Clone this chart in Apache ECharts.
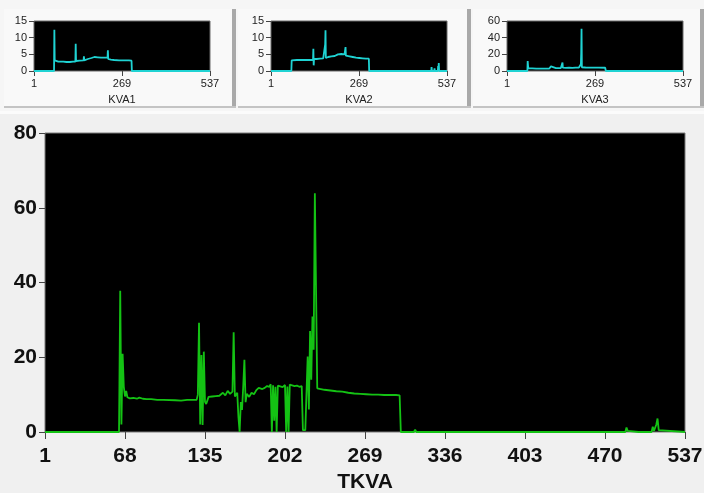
<!DOCTYPE html>
<html>
<head>
<meta charset="utf-8">
<script src="https://cdn.jsdelivr.net/npm/echarts@6/dist/echarts.min.js"></script>
<style>
html,body{margin:0;padding:0;background:#f0f0f0;}
#c{width:704px;height:493px;}
</style>
</head>
<body>
<div id="c"></div>
<script>
// ---- data (sample index, value) ----
const mainTicks = [1, 68, 135, 202, 269, 336, 403, 470, 537];
const thumbTicks = [1, 269, 537];

const tkva = [[1,0],[63,0],[64,37.8],[65,2],[66,20.9],[67,12.1],[68,9.5],[69,11],[70,9.3],[72,9.0],[75,9.1],[78,8.9],[80,9.2],[83,8.9],[86,8.8],[90,8.8],[95,8.6],[100,8.6],[110,8.5],[115,8.4],[120,8.6],[128,8.6],
[129,10],[130,29.2],[131,2],[132,20.6],[133,1.9],[134,21.5],[135,8.1],[136,7.5],[138,9.4],[141,9.5],[144,9.6],[147,9.7],[150,10.5],[152,9.8],[154,11],[156,10.2],[158,10.8],[159,26.7],[160,9.5],[162,10.5],[163,4],[164,0],[165,8],[166,5.9],[167,12],[168,19.3],[169,8],[170,10.2],[172,9.4],[174,10.5],[176,10.1],[178,11.2],[180,11.8],[181,12.1],[183,11.5],[185,11.8],[187,12.3],[189,12.1],[190,12.8],[191,0],[192,12.5],[193,3],[194,12.1],[195,0],[196,12.4],[198,12.2],[200,12.0],[202,12.6],[203,0],[204,12.2],[205,0],[206,12.7],[208,12.5],[210,12.3],[212,12.4],[214,12.1],[216,12.3],[217,0.5],[219,0.5],[220,0.6],[221,20.2],[222,6],[223,27],[224,14],[225,30.9],[226,22],[227,63.9],[228,38],[229,11.7],
[235,11.3],[240,11.1],[245,10.9],[250,10.8],[255,10.5],[260,10.3],[265,10.2],[270,10.1],[275,10.0],[280,10.0],[285,9.9],[290,9.9],[295,9.9],[298,9.8],[299,0],[310,0],[311,0.6],[312,0],[487,0],[488,1.2],[489,0.3],[490,0],[498,0],[499,0.5],[500,0],[509,0],[510,1.4],[511,0.3],[512,0.8],[513,2],[514,3.6],[515,0.5],[516,0],[537,0]];

const kva1 = [[1,0],[62,0],[63,12.4],[64,3.2],[66,2.9],[75,2.8],[90,2.8],[100,2.7],[110,2.7],[120,2.8],[127,2.8],[128,8.2],[129,3.0],[135,3.0],[140,3.1],[145,3.2],[152,3.2],[153,4.4],[154,3.2],[160,3.4],[165,3.6],[170,3.5],[176,3.9],[180,3.8],[185,4.2],[190,4.0],[195,4.1],[200,3.9],[205,4.0],[210,3.8],[215,4.0],[220,3.9],[225,4.1],[226,6.2],[227,3.6],[235,3.4],[245,3.3],[260,3.2],[275,3.2],[290,3.2],[298,3.1],[299,0],[490,0],[491,0.6],[492,0],[505,0],[506,0.5],[507,0],[537,0]];

const kva2 = [[1,0],[63,0],[64,3.2],[66,3.5],[68,3.3],[80,3.3],[100,3.3],[120,3.3],[129,3.3],[130,6.7],[131,1.7],[132,3.6],[140,3.6],[150,3.7],[160,3.8],[165,4.0],[166,8],[167,12.2],[168,3.9],[175,4.2],[185,4.4],[190,4.6],[195,4.5],[200,4.8],[205,5.0],[210,4.7],[215,5.1],[220,4.8],[225,5.0],[228,7.2],[229,4.6],[240,4.4],[250,4.2],[260,4.0],[270,3.9],[280,3.8],[290,3.7],[299,3.7],[300,0],[489,0],[490,1.2],[491,0],[498,0],[499,0.8],[500,0],[509,0],[510,1.5],[511,0.8],[512,2.4],[513,0],[537,0]];

const kva3 = [[1,0],[63,0],[64,12],[65,6.5],[66,3.5],[70,3.0],[90,2.8],[110,2.8],[130,2.9],[134,3.2],[135,5.6],[136,3.2],[150,3.4],[165,3.6],[169,5],[170,10.2],[171,4],[180,3.8],[190,4.0],[200,3.7],[210,4.0],[220,4.2],[225,4.5],[226,8],[227,20.8],[228,50.8],[229,4.4],[240,4.2],[260,4.1],[280,4.0],[300,3.9],[302,0],[313,0],[314,1.0],[315,0],[517,0],[518,1.0],[519,0],[537,0]];

const thumbNames = ['KVA1', 'KVA2', 'KVA3'];
const thumbMax = [15, 15, 60];
const thumbStep = [5, 5, 20];

// ---- chart ----
const chart = echarts.init(document.getElementById('c'), null, {renderer: 'canvas'});
const thumbLeft = [34, 271, 507];
const thumbData = [kva1, kva2, kva3];
const smallFont = 'Liberation Sans, Arial, sans-serif';
const bigFont = 'Liberation Sans Narrow, Arial Narrow, Liberation Sans, Arial, sans-serif';

const grids = [], xAxes = [], yAxes = [], series = [];
for (let i = 0; i < 3; i++) {
  grids.push({left: thumbLeft[i], top: 21, width: 176, height: 50, show: true,
    outerBoundsMode: 'none', containLabel: false,
    backgroundColor: '#000', borderColor: '#6a6a6a', borderWidth: 1});
  xAxes.push({gridIndex: i, type: 'value', min: 1, max: 537, interval: 268,
    name: thumbNames[i], nameLocation: 'middle', nameGap: 23,
    nameTextStyle: {fontSize: 11, color: '#222', fontFamily: smallFont},
    axisLine: {show: false}, splitLine: {show: false},
    axisTick: {show: true, length: 5, lineStyle: {color: '#444'}},
    axisLabel: {fontSize: 11, color: '#222', fontFamily: smallFont, margin: 7}});
  yAxes.push({gridIndex: i, type: 'value', min: 0, max: thumbMax[i], interval: thumbStep[i],
    axisLine: {show: false}, splitLine: {show: false},
    axisTick: {show: true, length: 5, lineStyle: {color: '#444'}},
    axisLabel: {fontSize: 11, color: '#222', fontFamily: smallFont, margin: 7}});
  series.push({type: 'line', xAxisIndex: i, yAxisIndex: i, data: thumbData[i],
    showSymbol: false, clip: false, animation: false,
    lineStyle: {color: '#1fd3d3', width: 1.8}});
}
grids.push({left: 45, top: 133, width: 640, height: 299, show: true,
  outerBoundsMode: 'none', containLabel: false,
  backgroundColor: '#000', borderColor: '#7a7a7a', borderWidth: 1});
xAxes.push({gridIndex: 3, type: 'value', min: 1, max: 537, interval: 67,
  name: 'TKVA', nameLocation: 'middle', nameGap: 37,
  nameTextStyle: {fontSize: 21, fontWeight: 'bold', color: '#111', fontFamily: bigFont},
  axisLine: {show: false}, splitLine: {show: false},
  axisTick: {show: true, length: 7, lineStyle: {color: '#444', width: 1}},
  axisLabel: {fontSize: 21, fontWeight: 'bold', color: '#111', fontFamily: bigFont, margin: 14}});
yAxes.push({gridIndex: 3, type: 'value', min: 0, max: 80, interval: 20,
  axisLine: {show: false}, splitLine: {show: false},
  axisTick: {show: true, length: 6, lineStyle: {color: '#444', width: 1}},
  axisLabel: {fontSize: 21, fontWeight: 'bold', color: '#111', fontFamily: bigFont, margin: 8}});
series.push({type: 'line', xAxisIndex: 3, yAxisIndex: 3, data: tkva,
  showSymbol: false, clip: false, animation: false,
  lineStyle: {color: '#14c214', width: 1.8}});

const panelGraphics = [];
const panels = [[4, 232], [238, 467], [473, 700]];
panelGraphics.push({type: 'rect', shape: {x: 0, y: 0, width: 704, height: 111}, style: {fill: '#f6f6f6'}, z: -10});
panels.forEach(p => {
  panelGraphics.push({type: 'rect', shape: {x: p[0], y: 9, width: p[1] - p[0], height: 98}, style: {fill: '#f9f9f9'}, z: -9});
  panelGraphics.push({type: 'rect', shape: {x: p[1], y: 9, width: 4, height: 99}, style: {fill: '#a9a9a9'}, z: -8});
  panelGraphics.push({type: 'rect', shape: {x: p[0], y: 106, width: p[1] - p[0] + 4, height: 2}, style: {fill: '#c4c4c4'}, z: -8});
});
panelGraphics.push({type: 'rect', shape: {x: 0, y: 111, width: 704, height: 3}, style: {fill: '#fbfbfb'}, z: -8});

chart.setOption({
  backgroundColor: '#f0f0f0',
  animation: false,
  graphic: panelGraphics,
  grid: grids, xAxis: xAxes, yAxis: yAxes, series: series
});
</script>
</body>
</html>
